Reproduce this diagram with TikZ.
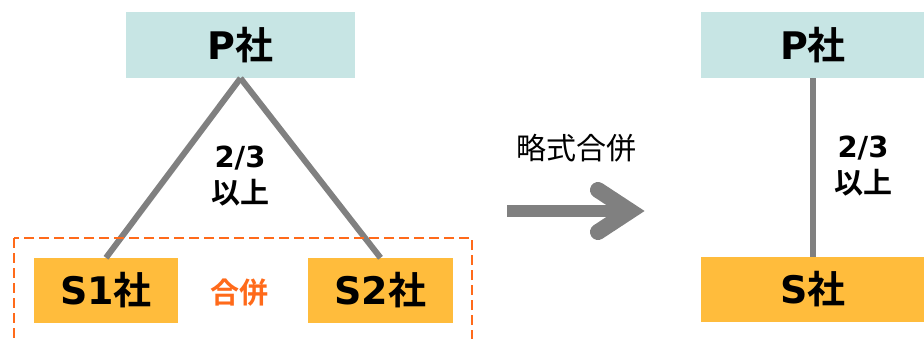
\documentclass[tikz,border=0pt]{standalone}
\usepackage{fontspec}
\setmainfont{Noto Sans CJK JP}
\newfontfamily\jpb{Noto Sans CJK JP Bold}
\newfontfamily\lat{DejaVu Sans}
\definecolor{pteal}{HTML}{C7E5E4}
\definecolor{sgold}{HTML}{FFBC3C}
\definecolor{morange}{HTML}{FF6A1A}
\definecolor{lgray}{HTML}{808080}
\newcommand{\lb}[1]{{\lat\bfseries #1}}
\tikzset{
  pbox/.style={fill=pteal, inner sep=0pt, font=\jpb\fontsize{38}{40}\selectfont},
  sbox/.style={fill=sgold, inner sep=0pt, font=\jpb\fontsize{38}{40}\selectfont},
  link/.style={draw=lgray, line width=6pt},
  ratio/.style={align=center, inner sep=0pt, font=\jpb\fontsize{29}{36}\selectfont},
}
\begin{document}
\begin{tikzpicture}[x=1pt, y=-1pt]
\useasboundingbox (0,0) rectangle (924,338);
\clip (0,0) rectangle (924,338);
% left
\node[pbox, minimum width=229pt, minimum height=66pt] (p1) at (240.5,45) {\lb{P}社};
\node[sbox, minimum width=144pt, minimum height=65pt] (s1) at (106,290.5) {\lb{S1}社};
\node[sbox, minimum width=145pt, minimum height=65pt] (s2) at (380.5,290.5) {\lb{S2}社};
\draw[link] (p1.south) -- (s1.north);
\draw[link] (p1.south) -- (s2.north);
\node[ratio] (r1) at (240,176) {\lb{2/3}\\以上};
\node[font=\jpb\fontsize{29}{32}\selectfont, text=morange, inner sep=0pt] (m1) at (239,293) {合併};
\draw[morange, line width=2.3pt, dash pattern=on 10pt off 5pt] (14,238) rectangle (472,360);
% arrow
\node[font=\fontsize{30}{34}\selectfont, inner sep=0pt] (lbl) at (576,148) {略式合併};
\draw[lgray, line width=12pt] (507,211) -- (630,211);
\draw[lgray, line width=16pt, line cap=round, miter limit=10] (598,190) -- (630,211) -- (598,232);
% right
\node[pbox, minimum width=224pt, minimum height=66pt] (p2) at (813,45) {\lb{P}社};
\node[sbox, minimum width=224pt, minimum height=65pt] (s3) at (813,289.5) {\lb{S}社};
\draw[link] (p2.south) -- (s3.north);
\node[ratio] (r2) at (863,166) {\lb{2/3}\\以上};
\end{tikzpicture}
\end{document}
